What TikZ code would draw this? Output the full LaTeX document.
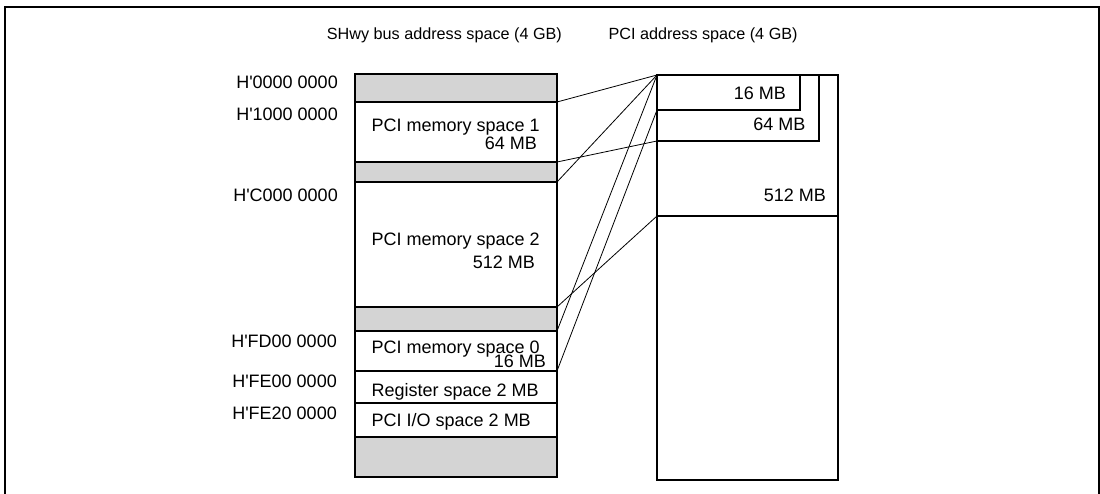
\documentclass[tikz,border=0pt]{standalone}
\usepackage{fontspec}
\setmainfont{Liberation Sans}
\definecolor{shade}{RGB}{212,212,212}
\newcommand{\hq}{\textquotesingle}
\begin{document}
\begin{tikzpicture}[x=1pt,y=-1pt,
  seg/.style={draw, line width=2pt, inner sep=0pt, outer sep=0pt, anchor=north west},
  gap/.style={seg, fill=shade},
  lbl/.style={inner sep=0pt, font=\fontsize{18}{18}\selectfont},
  ttl/.style={inner sep=0pt, anchor=base west, font=\fontsize{16.2}{16.2}\selectfont},
  map/.style={line width=0.8pt}]
\useasboundingbox (0,0) rectangle (1100,494);
% frame
\draw[line width=2pt] (5,500) -- (5,7) -- (1099,7) -- (1099,500);
% titles
\node[ttl] (tl) at (326.7,39.3) {SHwy bus address space (4 GB)};
\node[ttl] (tr) at (608.3,39.3) {PCI address space (4 GB)};
% SHwy column
\node[gap, minimum width=202pt, minimum height=28pt] (g1) at (355,74) {};
\node[seg, minimum width=202pt, minimum height=60pt] (m1) at (355,102) {};
\node[gap, minimum width=202pt, minimum height=20pt] (g2) at (355,162) {};
\node[seg, minimum width=202pt, minimum height=125pt] (m2) at (355,182) {};
\node[gap, minimum width=202pt, minimum height=24pt] (g3) at (355,307) {};
\node[seg, minimum width=202pt, minimum height=40pt] (m0) at (355,331) {};
\node[seg, minimum width=202pt, minimum height=32pt] (reg) at (355,371) {};
\node[seg, minimum width=202pt, minimum height=34pt] (io) at (355,403) {};
\node[gap, minimum width=202pt, minimum height=40pt] (g4) at (355,437) {};
% PCI column
\node[seg, minimum width=181pt, minimum height=405pt] (rall) at (657,75) {};
\node[seg, minimum width=181pt, minimum height=141pt] (r512) at (657,75) {};
\node[seg, minimum width=162pt, minimum height=66pt] (r64) at (657,75) {};
\node[seg, minimum width=143pt, minimum height=35pt] (r16) at (657,75) {};
% mapping lines
\draw[map] (m1.north east) -- (rall.north west);
\draw[map] (m1.south east) -- (r64.south west);
\draw[map] (m2.north east) -- (rall.north west);
\draw[map] (m2.south east) -- (r512.south west);
\draw[map] (m0.north east) -- (rall.north west);
\draw[map] (m0.south east) -- (r16.south west);
% address labels
\node[lbl, anchor=base east] (a0) at (338,88.3) {H\hq0000 0000};
\node[lbl, anchor=base east] (a1) at (338,120.7) {H\hq1000 0000};
\node[lbl, anchor=base east] (ac) at (338,201.7) {H\hq C000 0000};
\node[lbl, anchor=base east] (afd) at (337,347.7) {H\hq FD00 0000};
\node[lbl, anchor=base east] (afe) at (337,387.7) {H\hq FE00 0000};
\node[lbl, anchor=base east] (afe2) at (337,419.3) {H\hq FE20 0000};
% texts in SHwy column
\node[lbl, anchor=base west] (t1a) at (371.5,131.7) {PCI memory space 1};
\node[lbl, anchor=base east] (t1b) at (537,149.3) {64 MB};
\node[lbl, anchor=base west] (t2a) at (371.5,245.7) {PCI memory space 2};
\node[lbl, anchor=base east] (t2b) at (535,268.3) {512 MB};
\node[lbl, anchor=base west] (t0a) at (371.5,353.3) {PCI memory space 0};
\node[lbl, anchor=base east] (t0b) at (546,367.3) {16 MB};
\node[lbl, anchor=base west] (treg) at (371.5,396) {Register space 2 MB};
\node[lbl, anchor=base west] (tio) at (371.5,426.7) {PCI I/O space 2 MB};
% texts in PCI column
\node[lbl, anchor=base east] (l16) at (786,100) {16 MB};
\node[lbl, anchor=base east] (l64) at (805.7,131) {64 MB};
\node[lbl, anchor=base east] (l512) at (826,201.7) {512 MB};
\end{tikzpicture}
\end{document}
